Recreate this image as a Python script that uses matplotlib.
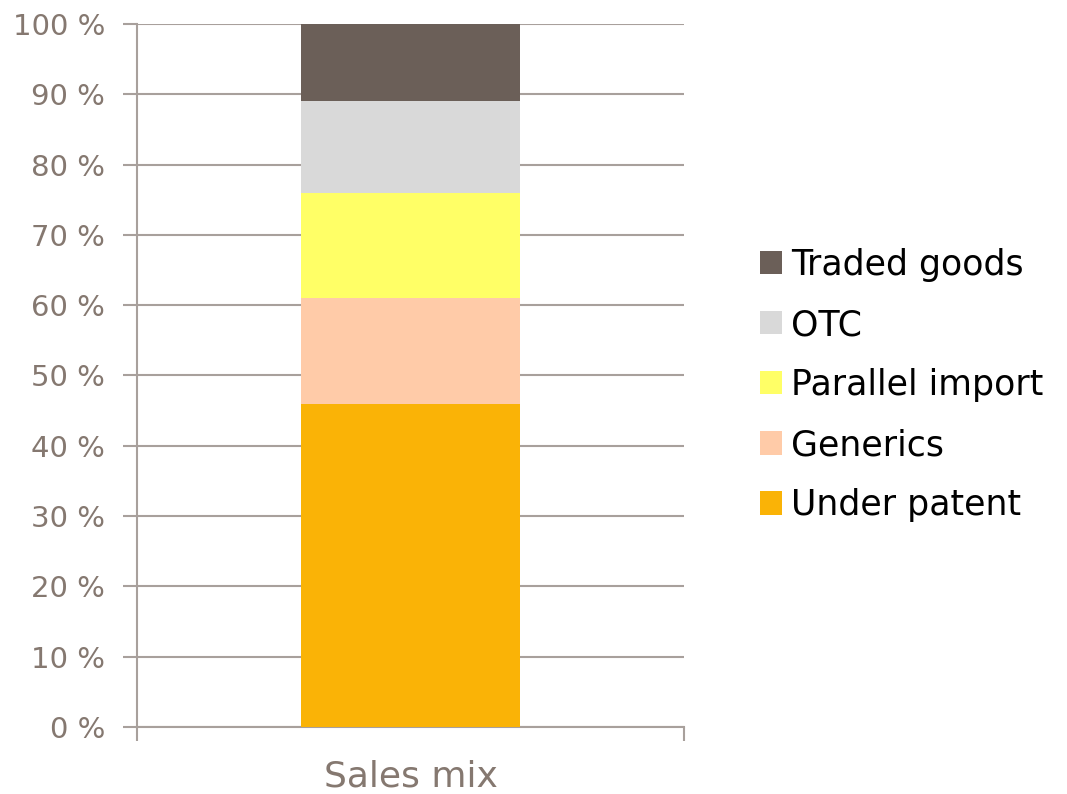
import matplotlib.pyplot as plt

category = "Sales mix"
segments = ["Under patent", "Generics", "Parallel import", "OTC", "Traded goods"]
shares = [46, 15, 15, 13, 11]
colors = ["#FAB306", "#FFCBA8", "#FFFF66", "#D9D9D9", "#6B5F58"]

grid_c = "#A8A09C"
text_c = "#857870"

fig = plt.figure(figsize=(10.67, 7.94), dpi=100, facecolor="white")
ax = fig.add_axes([0.1284, 0.0844, 0.5127, 0.8854])

bottom = 0
for name, val, col in zip(segments, shares, colors):
    ax.bar(0, val, width=0.4, bottom=bottom, color=col, label=name, zorder=3)
    bottom += val

ax.set_xlim(-0.5, 0.5)
ax.set_ylim(0, 100)
ax.set_yticks(range(0, 101, 10))
ax.set_yticklabels([f"{v} %" for v in range(0, 101, 10)])
ax.yaxis.grid(True, color=grid_c, linewidth=1.5, zorder=0)

# x axis: ticks only at the edges, label in the middle
ax.set_xticks([-0.5, 0.5])
ax.set_xticklabels(["", ""])
ax.text(0, -0.07, category, transform=ax.get_xaxis_transform(),
        ha="center", va="center", fontsize=26, color=text_c)

for s in ["top", "right"]:
    ax.spines[s].set_visible(False)
ax.spines["left"].set_color(grid_c)
ax.spines["bottom"].set_color(grid_c)
ax.spines["left"].set_linewidth(1.5)
ax.spines["bottom"].set_linewidth(1.5)
ax.tick_params(axis="both", colors=grid_c, length=10, width=1.5, labelcolor=text_c,
               labelsize=21)
ax.tick_params(axis="y", pad=13)

handles, labels = ax.get_legend_handles_labels()
leg = fig.legend(handles[::-1], labels[::-1], loc="center left",
                 bbox_to_anchor=(0.699, 0.515), frameon=False, fontsize=25,
                 handlelength=0.65, handleheight=0.65, handletextpad=0.25,
                 labelspacing=0.75, borderaxespad=0)

fig.savefig("out.png", dpi=100, facecolor="white")
